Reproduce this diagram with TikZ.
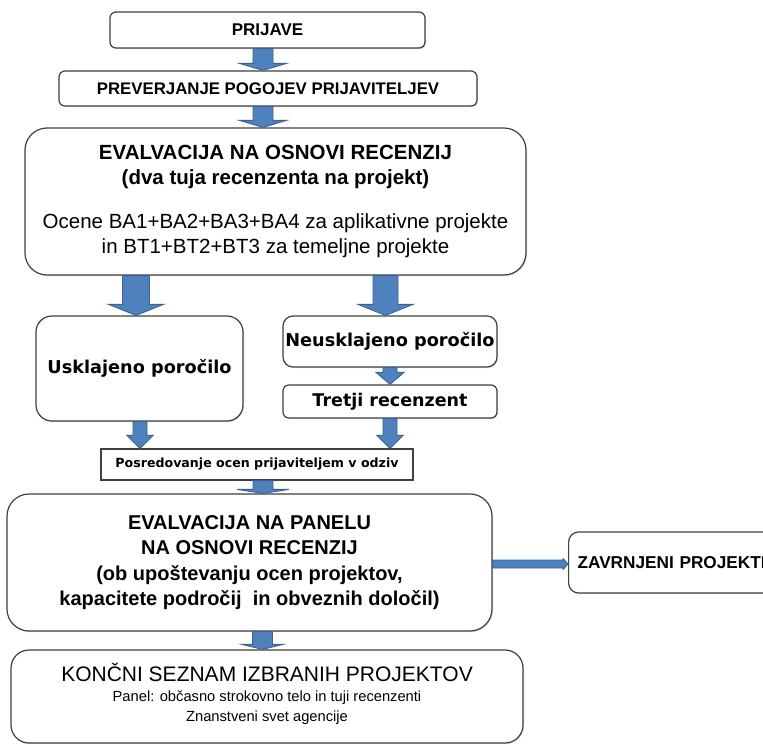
\documentclass[tikz,border=0pt]{standalone}
\usepackage{fontspec}
\setmainfont{Liberation Sans}
\newfontfamily\dvs{DejaVu Sans}
\usetikzlibrary{calc,shadows}
\definecolor{afill}{HTML}{4F81BD}
\definecolor{aline}{HTML}{3A6393}
\definecolor{bline}{HTML}{404040}
\newcommand\fs[2]{\fontsize{#1}{#2}\selectfont}
\tikzset{
  box/.style={draw=bline, line width=1.2pt, fill=white, inner sep=0pt, align=center,
              drop shadow={shadow xshift=1pt, shadow yshift=-1.2pt, opacity=0.25}},
  barrow/.style={fill=afill, draw=aline, line width=0.9pt, line join=miter},
}
% vertical block arrow: from, to, x, shaft half width, head half width, head length
\newcommand\varrow[6]{%
  \path[barrow] let \p1=(#1), \p2=(#2) in
    ({#3pt-#4pt},{\y1}) -- ({#3pt+#4pt},{\y1}) -- ({#3pt+#4pt},{\y2+#6pt}) --
    ({#3pt+#5pt},{\y2+#6pt}) -- ({#3pt},{\y2}) -- ({#3pt-#5pt},{\y2+#6pt}) --
    ({#3pt-#4pt},{\y2+#6pt}) -- cycle;}
% horizontal block arrow: from, to, y, shaft half width, head half width, head length
\newcommand\harrow[6]{%
  \path[barrow] let \p1=(#1), \p2=(#2) in
    ({\x1},{-#3pt+#4pt}) -- ({\x2-#6pt},{-#3pt+#4pt}) -- ({\x2-#6pt},{-#3pt+#5pt}) --
    ({\x2},{-#3pt}) -- ({\x2-#6pt},{-#3pt-#5pt}) -- ({\x2-#6pt},{-#3pt-#4pt}) --
    ({\x1},{-#3pt-#4pt}) -- cycle;}
\begin{document}
\begin{tikzpicture}[x=1pt,y=-1pt]
\useasboundingbox (0,0) rectangle (763,744);
\fill[white] (0,0) rectangle (763,744);

\node[box, rounded corners=6pt, minimum width=315pt, minimum height=36pt,
      font=\fs{17}{20}\bfseries] (prijave) at (267.5,30) {PRIJAVE};
\node[box, rounded corners=6pt, minimum width=418pt, minimum height=35pt,
      font=\fs{16.8}{20}\bfseries] (prever) at (268,88.5) {PREVERJANJE POGOJEV PRIJAVITELJEV};
\node[box, rounded corners=22pt, minimum width=501pt, minimum height=147pt,
      font=\fs{20.5}{25}\bfseries] (eval) at (275.5,201.5)
  {EVALVACIJA NA OSNOVI RECENZIJ\\
   (dva tuja recenzenta na projekt)\\[19pt]
   \mdseries Ocene BA1+BA2+BA3+BA4 za aplikativne projekte\\
   \mdseries in BT1+BT2+BT3 za temeljne projekte};
\node[box, rounded corners=16pt, minimum width=207pt, minimum height=105pt,
      font=\dvs\fs{17.7}{21}\bfseries] (uskl) at (139.5,368.5) {Usklajeno poročilo};
\node[box, rounded corners=10pt, minimum width=214pt, minimum height=51pt,
      font=\dvs\fs{17.7}{21}\bfseries] (neusk) at (390,341.5) {Neusklajeno poročilo};
\node[box, rounded corners=6pt, minimum width=214pt, minimum height=33pt,
      font=\dvs\fs{17.5}{21}\bfseries] (tretji) at (390,401.5) {Tretji recenzent};
\node[box, minimum width=312pt, minimum height=31pt,
      font=\dvs\fs{12.6}{15}\bfseries] (posr) at (257,464.5) {Posredovanje ocen prijaviteljem v odziv};
\node[box, rounded corners=22pt, minimum width=485pt, minimum height=137pt,
      font=\fs{20}{25.5}\bfseries] (panel) at (249.5,562.5)
  {EVALVACIJA NA PANELU\\ NA OSNOVI RECENZIJ\\
   (ob upoštevanju ocen projektov,\\ kapacitete področij\ \ in obveznih določil)};
\node[box, rounded corners=10pt, minimum height=61pt, text width=222pt, align=left,
      inner xsep=9pt, anchor=west, font=\fs{17.2}{20}\bfseries] (zavr) at (568,562.5)
  {ZAVRNJENI PROJEKTI};
\node[box, rounded corners=18pt, minimum width=512pt, minimum height=93pt] (koncni) at (267,696.5) {};
\node[align=center, inner sep=0pt, font=\fs{14.7}{20}] (koncnit) at (267,693.5)
  {\fs{21}{21}KONČNI SEZNAM IZBRANIH PROJEKTOV\\
   Panel: občasno strokovno telo in tuji recenzenti\\
   Znanstveni svet agencije};

\varrow{prijave.south}{prever.north}{263}{10}{23.5}{7}
\varrow{prever.south}{eval.north}{263}{10}{23.5}{7}
\varrow{eval.south}{uskl.north}{136}{13.5}{27.5}{11}
\varrow{eval.south}{neusk.north}{385.5}{12.5}{27.5}{11}
\varrow{neusk.south}{tretji.north}{390}{7}{14}{12}
\varrow{uskl.south}{posr.north}{140}{7}{13}{13}
\varrow{tretji.south}{posr.north}{390}{7}{13}{13}
\varrow{posr.south}{panel.north}{263}{10}{26}{4}
\varrow{panel.south}{koncni.north}{262.5}{10}{20.5}{5}
\harrow{panel.east}{zavr.west}{564}{4}{5.5}{5}
\end{tikzpicture}
\end{document}
